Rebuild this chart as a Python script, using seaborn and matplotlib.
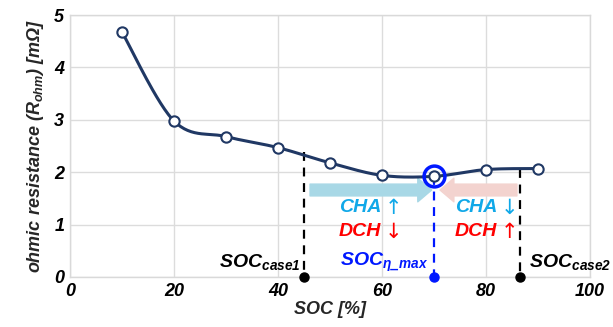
import numpy as np
import pandas as pd
import seaborn as sns
import matplotlib.pyplot as plt

# data
soc = [10, 20, 30, 40, 50, 60, 70, 80, 90]
r_ohm = [4.68, 2.98, 2.68, 2.47, 2.18, 1.94, 1.92, 2.05, 2.07]
soc_case1, r_case1 = 45, 2.38
soc_eta_max, r_eta_max = 70, 1.92
soc_case2, r_case2 = 86.5, 2.07

x_ticks = [0, 20, 40, 60, 80, 100]
y_ticks = [0, 1, 2, 3, 4, 5]

NAVY = "#203864"
CYAN = "#10a8e8"
RED = "#ff0000"
BLUE = "#0018ff"


def smooth(xs, ys, n=30):
    # catmull-rom style smoothing like a spreadsheet "smoothed line"
    xs = np.asarray(xs, float)
    ys = np.asarray(ys, float)
    px = np.concatenate([[xs[0]], xs, [xs[-1]]])
    py = np.concatenate([[ys[0]], ys, [ys[-1]]])
    ox, oy = [], []
    for i in range(1, len(px) - 2):
        t = np.linspace(0, 1, n, endpoint=False)
        for arr, out in ((px, ox), (py, oy)):
            p0, p1, p2, p3 = arr[i - 1], arr[i], arr[i + 1], arr[i + 2]
            out.extend(0.5 * ((2 * p1) + (-p0 + p2) * t
                              + (2 * p0 - 5 * p1 + 4 * p2 - p3) * t ** 2
                              + (-p0 + 3 * p1 - 3 * p2 + p3) * t ** 3))
    ox.append(xs[-1])
    oy.append(ys[-1])
    return np.array(ox), np.array(oy)


sns.set_theme(style="whitegrid")
plt.rcParams["font.family"] = ["Liberation Sans", "DejaVu Sans"]
plt.rcParams["mathtext.fontset"] = "custom"
plt.rcParams["mathtext.rm"] = "Liberation Sans:bold:italic"
plt.rcParams["mathtext.it"] = "Liberation Sans:bold:italic"
plt.rcParams["mathtext.bf"] = "Liberation Sans:bold:italic"

fig = plt.figure(figsize=(6.13, 3.27), dpi=100)
ax = fig.add_axes([0.114, 0.153, 0.848, 0.801])

sx, sy = smooth(soc, r_ohm)
curve = pd.DataFrame({"soc": sx, "r": sy})
pts = pd.DataFrame({"soc": soc, "r": r_ohm})

sns.lineplot(data=curve, x="soc", y="r", sort=False, color=NAVY, lw=2.2, ax=ax, zorder=3)

# dashed guides to the x axis
for xv, yv, c in [(soc_case1, r_case1, "black"), (soc_case2, r_case2, "black"),
                  (soc_eta_max, r_eta_max, BLUE)]:
    ax.plot([xv, xv], [yv, 0], ls=(0, (4, 3)), color=c, lw=1.6, zorder=2)
    ax.plot([xv], [0], "o", color=c, ms=6.5, clip_on=False, zorder=6)

# arrows
ax.annotate("", xy=(69.6, 1.66), xytext=(46.2, 1.66),
            arrowprops=dict(arrowstyle="simple,head_width=1.7,head_length=1.0,tail_width=0.85",
                            color="#a8d8e6", mutation_scale=10, shrinkA=0, shrinkB=0), zorder=1)
ax.annotate("", xy=(71.2, 1.66), xytext=(86.0, 1.66),
            arrowprops=dict(arrowstyle="simple,head_width=1.7,head_length=1.0,tail_width=0.85",
                            color="#f3d3cf", mutation_scale=10, shrinkA=0, shrinkB=0), zorder=1)

sns.scatterplot(data=pts, x="soc", y="r", s=55, color="white", edgecolor=NAVY,
                linewidth=1.5, ax=ax, zorder=4)
ax.plot([soc_eta_max], [r_eta_max], "o", ms=15, mfc="none", mec=BLUE, mew=2.5, zorder=5)

tk = dict(fontsize=13, fontweight="bold", fontstyle="italic")
big = dict(fontsize=14, fontweight="bold", fontstyle="italic")
arr = dict(fontsize=15, family=["DejaVu Sans"], fontweight="normal")

labels = [(59.9, 60.5, 1.32, "CHA", "\u2191", CYAN),
          (59.9, 60.5, 0.86, "DCH", "\u2193", RED),
          (82.2, 82.8, 1.32, "CHA", "\u2193", CYAN),
          (82.2, 82.8, 0.86, "DCH", "\u2191", RED)]
for xw, xa, yv, word, sym, c in labels:
    ax.text(xw, yv, word, color=c, ha="right", va="center", **big)
    ax.text(xa, yv, sym, color=c, ha="left", va="center", **arr)

ax.text(44.3, 0.29, r"SOC$_{case1}$", color="black", ha="right", va="center", **big)
ax.text(69.0, 0.27, r"SOC$_{\eta\_max}$", color=BLUE, ha="right", va="center", **big)
ax.text(88.4, 0.29, r"SOC$_{case2}$", color="black", ha="left", va="center", **big)

ax.set_xlim(0, 100)
ax.set_ylim(0, 5)
ax.set_xticks(x_ticks)
ax.set_yticks(y_ticks)
ax.set_xticklabels([str(v) for v in x_ticks], **tk)
ax.set_yticklabels([str(v) for v in y_ticks], **tk)
ax.tick_params(axis="both", length=0, pad=4, colors="black")
ax.set_xlabel("SOC [%]", fontsize=13, fontweight="bold", fontstyle="italic", labelpad=1)
ax.set_ylabel(r"ohmic resistance ($R_{ohm}$) [m$\Omega$]", fontsize=13,
              fontweight="bold", fontstyle="italic", labelpad=6)
ax.grid(True, color="#dcdcdc", lw=1)
for s in ax.spines.values():
    s.set_color("#d9d9d9")
    s.set_linewidth(1)

fig.savefig("out.png", dpi=100)
